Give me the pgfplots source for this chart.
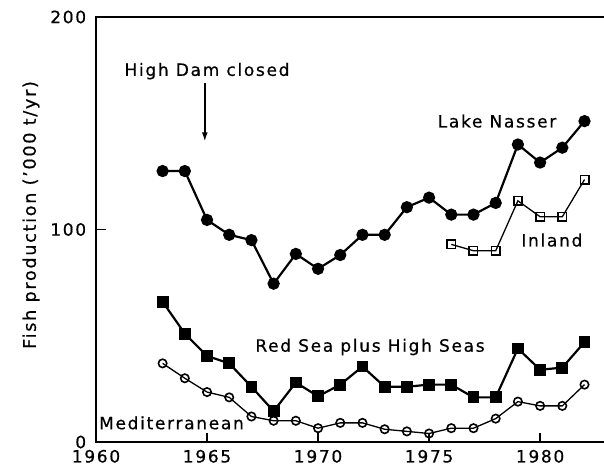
\documentclass[border=0pt]{standalone}
\usepackage{fontspec}
\setmainfont{DejaVu Sans}[LetterSpace=10, FakeBold=0.6]
\usepackage{pgfplots}
\pgfplotsset{compat=1.18}
\usetikzlibrary{arrows.meta}
\begin{document}
\fontsize{17bp}{20bp}\selectfont
\begin{tikzpicture}
\begin{axis}[
  at={(96bp,28bp)}, anchor=south west,
  scale only axis, width=510.5bp, height=425bp,
  xmin=1960, xmax=1982.99, ymin=0, ymax=200,
  axis line style={line width=1.6pt},
  tick align=inside,
  xtick pos=left, ytick pos=left,
  major tick length=9bp,
  every tick/.style={black, line width=1.5pt},
  xtick={1960,1965,1970,1975,1980}, ytick={0,100,200},
  xticklabel style={yshift=-2bp},
  yticklabel style={xshift=-4bp},
  /pgf/number format/assume math mode=true,
  /pgf/number format/1000 sep={},
  ticklabel style={font=\fontsize{17bp}{20bp}\selectfont},
  clip=false,
]
% tick marks
\draw[line width=1.5pt] (axis cs:1965,0) -- (axis cs:1965,4.2);
\draw[line width=1.5pt] (axis cs:1970,0) -- (axis cs:1970,4.2);
\draw[line width=1.5pt] (axis cs:1975,0) -- (axis cs:1975,4.2);
\draw[line width=1.5pt] (axis cs:1980,0) -- (axis cs:1980,4.2);
\draw[line width=1.5pt] (axis cs:1960,100) -- (axis cs:1960.45,100);
% Lake Nasser
\addplot[black, line width=2.2pt, mark=*, mark size=5bp] coordinates {
(1963,127.5)(1964,127.5)(1965,104.5)(1966,97.5)(1967,95)(1968,74.5)(1969,88.5)(1970,81.5)(1971,88)(1972,97.5)(1973,97.5)(1974,110.5)(1975,115)(1976,107)(1977,107)(1978,112.5)(1979,140)(1980,131.5)(1981,138.5)(1982,151)};
% Inland
\addplot[black, line width=1.3pt, mark=square, mark size=4.2bp, mark options={fill=white, line width=1.6pt}] coordinates {
(1976,93)(1977,90)(1978,90)(1979,113.5)(1980,106)(1981,106)(1982,123.5)};
% Red Sea plus High Seas
\addplot[black, line width=2.2pt, mark=square*, mark size=4.8bp] coordinates {
(1963,66)(1964,51)(1965,40.5)(1966,37)(1967,26)(1968,14.5)(1969,28)(1970,21.5)(1971,27)(1972,35.5)(1973,26)(1974,26)(1975,27)(1976,27)(1977,21)(1978,21)(1979,44)(1980,34)(1981,35)(1982,47)};
% Mediterranean
\addplot[black, line width=1.3pt, mark=o, mark size=4.2bp, mark options={fill=white, line width=1.6pt}] coordinates {
(1963,37)(1964,30)(1965,23.5)(1966,21)(1967,12)(1968,10)(1969,10)(1970,6.5)(1971,9)(1972,9)(1973,6)(1974,5)(1975,4)(1976,6.5)(1977,6.5)(1978,11)(1979,19)(1980,17)(1981,17)(1982,27)};
\node at (axis cs:1965.0,174.5) {High Dam closed};
\draw[line width=1.5pt, -{Latex[length=9bp,width=6bp]}] (axis cs:1964.9,169) -- (axis cs:1964.9,141.5);
\node at (axis cs:1978.06,151) {Lake Nasser};
\node at (axis cs:1980.53,95) {Inland};
\node at (axis cs:1972.34,44.7) {Red Sea plus High Seas};
\node at (axis cs:1963.4,9) {Mediterranean};
\end{axis}
\node[rotate=90] at (31bp,255bp) {\fontsize{17.5bp}{20bp}\selectfont Fish production ('000 t/yr)};
\pgfresetboundingbox
\path[use as bounding box] (0,0) rectangle (604bp,470bp);
\end{tikzpicture}
\end{document}
